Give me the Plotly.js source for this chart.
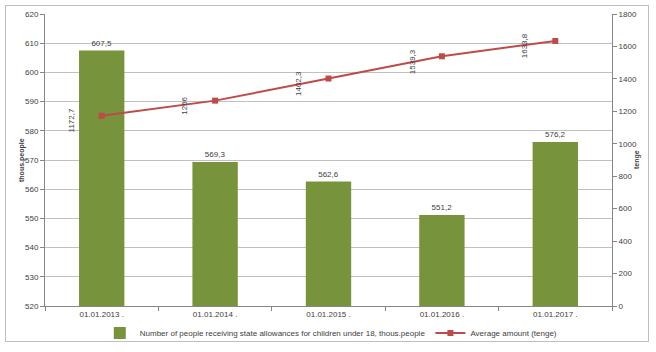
<!DOCTYPE html>
<html>
<head>
<meta charset="utf-8">
<script src="https://cdn.plot.ly/plotly-3.0.1.min.js"></script>
<style>
html,body{margin:0;padding:0;background:#fff;}
#wrap{position:relative;width:656px;height:352px;}
#frame{position:absolute;left:5px;top:5px;width:644px;height:337px;border:1px solid #bfbfbf;box-sizing:border-box;}
#chart{position:absolute;left:0;top:0;width:656px;height:352px;}
</style>
</head>
<body>
<div id="wrap"><div id="frame"></div><div id="chart"></div></div>
<script>
const categories = ["01.01.2013 .", "01.01.2014 .", "01.01.2015 .", "01.01.2016 .", "01.01.2017 ."];
const peopleThous = [607.5, 569.3, 562.6, 551.2, 576.2];
const avgAmount = [1172.7, 1266, 1402.3, 1539.3, 1633.8];
const barName = "Number of people receiving state allowances for children under 18, thous.people";
const lineName = "Average amount (tenge)";
const leftTitle = "thous.people";
const rightTitle = "tenge";

const fmt = v => String(v).replace('.', ',');
const font = "Liberation Sans, Arial, sans-serif";
const txtColor = "#404040";

const bars = {
  type: 'bar', x: categories, y: peopleThous, name: barName,
  marker: {color: '#77933c'}, width: 0.4,
  text: peopleThous.map(fmt), textposition: 'outside', cliponaxis: false,
  textfont: {family: font, size: 8, color: txtColor},
  hoverinfo: 'none'
};
const line = {
  type: 'scatter', mode: 'lines+markers', x: categories, y: avgAmount, name: lineName,
  yaxis: 'y2', line: {color: '#be4b48', width: 2},
  marker: {color: '#be4b48', symbol: 'square', size: 6},
  hoverinfo: 'none'
};

const annotations = avgAmount.map((v, i) => ({
  x: categories[i], y: v, xref: 'x', yref: 'y2', text: fmt(v), showarrow: false,
  textangle: -90, xshift: -30, yshift: -5,
  font: {family: font, size: 8, color: txtColor}
}));
annotations.push({xref: 'paper', yref: 'paper', x: (22 - 45) / 567, y: 0.5, text: '<b>' + leftTitle + '</b>',
  showarrow: false, textangle: -90, xanchor: 'center', yanchor: 'middle',
  font: {family: font, size: 7, color: txtColor}});
annotations.push({xref: 'paper', yref: 'paper', x: (637 - 45) / 567, y: 0.5, text: '<b>' + rightTitle + '</b>',
  showarrow: false, textangle: -90, xanchor: 'center', yanchor: 'middle',
  font: {family: font, size: 7, color: txtColor}});

const layout = {
  width: 656, height: 352,
  margin: {l: 45, r: 44, t: 14, b: 46, autoexpand: false},
  paper_bgcolor: 'rgba(0,0,0,0)', plot_bgcolor: 'rgba(0,0,0,0)',
  font: {family: font, size: 8, color: txtColor},
  showlegend: true,
  legend: {orientation: 'h', xref: 'container', yref: 'container', x: 0.505, xanchor: 'center',
    y: 1 - 333/352, yanchor: 'middle',
    font: {family: font, size: 8, color: txtColor}, itemwidth: 30, bgcolor: 'rgba(0,0,0,0)'},
  bargap: 0.6,
  xaxis: {type: 'category', showgrid: false, showline: true, linecolor: '#868686',
    ticks: 'outside', tickson: 'boundaries', ticklen: 4, tickcolor: '#868686',
    tickfont: {family: font, size: 8, color: txtColor}, fixedrange: true, automargin: false},
  yaxis: {range: [520, 620], dtick: 10, showgrid: true, gridcolor: '#c0c0c0', gridwidth: 1,
    showline: true, linecolor: '#868686', ticks: 'outside', ticklen: 4, tickcolor: '#868686',
    zeroline: false, tickfont: {family: font, size: 8, color: txtColor}, automargin: false},
  yaxis2: {range: [0, 1800], dtick: 200, overlaying: 'y', side: 'right', showgrid: false,
    showline: true, linecolor: '#868686', ticks: 'outside', ticklen: 4, tickcolor: '#868686',
    zeroline: false, tickfont: {family: font, size: 8, color: txtColor}, automargin: false},
  annotations: annotations
};

Plotly.newPlot('chart', [bars, line], layout, {displayModeBar: false, staticPlot: true});
</script>
</body>
</html>
